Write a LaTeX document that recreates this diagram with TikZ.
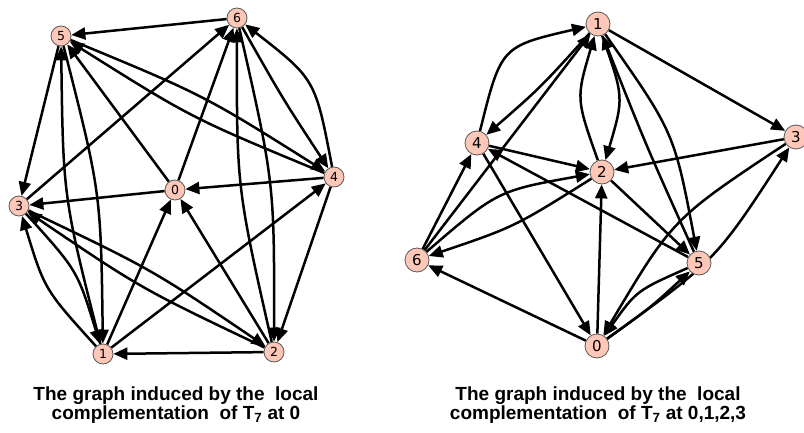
\documentclass[tikz,border=0pt]{standalone}
\usepackage{fontspec}
\setmainfont{Liberation Sans}
\newfontfamily\numfont{DejaVu Sans}
\usetikzlibrary{arrows.meta,calc,backgrounds}
\definecolor{nodefill}{HTML}{FEC7B8}
% digon: #3 = bow of #1->#2, #4 = bow of #2->#1 (positive = to the left of travel)
\newcommand\dgn[4]{%
  \draw[arr] (#1) .. controls ($(#1)!0.5!(#2)!#3!90:(#2)$) .. (#2);
  \draw[arr] (#2) .. controls ($(#2)!0.5!(#1)!#4!90:(#1)$) .. (#1);}
\begin{document}
\begin{tikzpicture}[x=1pt,y=-1pt,
  vl/.style={circle,draw=black!65,line width=0.8pt,fill=nodefill,inner sep=0pt,minimum size=20pt,font=\numfont\fontsize{12.5}{12.5}\selectfont},
  vr/.style={vl,minimum size=24pt,font=\numfont\fontsize{15}{15}\selectfont},
  arr/.style={draw=black,line width=2.5pt,-{Triangle[length=14pt,width=12pt]}},
  captxt/.style={font=\fontsize{19}{19.5}\selectfont\bfseries,align=center}]
\useasboundingbox (0,0) rectangle (804,433);
% left graph nodes
\node[vl] (L0) at (175,190) {0};
\node[vl] (L1) at (103,354) {1};
\node[vl] (L2) at (274,352) {2};
\node[vl] (L3) at (19,206) {3};
\node[vl] (L4) at (334,177) {4};
\node[vl] (L5) at (61,36) {5};
\node[vl] (L6) at (237,18) {6};
% right graph nodes
\node[vr] (R0) at (597,346) {0};
\node[vr] (R1) at (598,24) {1};
\node[vr] (R2) at (602,172) {2};
\node[vr] (R3) at (796,137) {3};
\node[vr] (R4) at (477,143) {4};
\node[vr] (R5) at (699,263) {5};
\node[vr] (R6) at (417,260) {6};
\begin{pgfonlayer}{background}
% left edges
\foreach \a/\b in {L0/L3,L0/L5,L0/L6,L1/L4,L1/L0,L2/L0,L2/L1,L3/L6,L4/L0,L4/L2,L5/L3,L6/L5}
  \draw[arr] (\a) -- (\b);
\dgn{L1}{L3}{19pt}{19pt}
\dgn{L1}{L5}{19pt}{19pt}
\dgn{L2}{L3}{11pt}{11pt}
\dgn{L2}{L6}{19pt}{19pt}
\dgn{L4}{L5}{13pt}{13pt}
\dgn{L4}{L6}{-35pt}{-3pt}
% right edges
\foreach \a/\b in {R1/R3,R3/R2,R0/R2,R0/R6,R4/R0,R6/R1,R4/R2,R2/R5,R5/R4,R6/R4}
  \draw[arr] (\a) -- (\b);
\dgn{R0}{R3}{-27pt}{-33pt}
\dgn{R0}{R5}{-4pt}{-18pt}
\dgn{R1}{R2}{24pt}{24pt}
\dgn{R1}{R4}{5pt}{52pt}
\dgn{R1}{R5}{28pt}{3pt}
\dgn{R2}{R6}{12pt}{28pt}
\end{pgfonlayer}
% captions
\node[captxt] (c1) at (176,405) {The graph induced by the~ local\\complementation~ of T\textsubscript{7} at 0};
\node[captxt] (c2) at (598,405) {The graph induced by the~ local\\complementation~ of T\textsubscript{7} at 0,1,2,3};
\end{tikzpicture}
\end{document}
